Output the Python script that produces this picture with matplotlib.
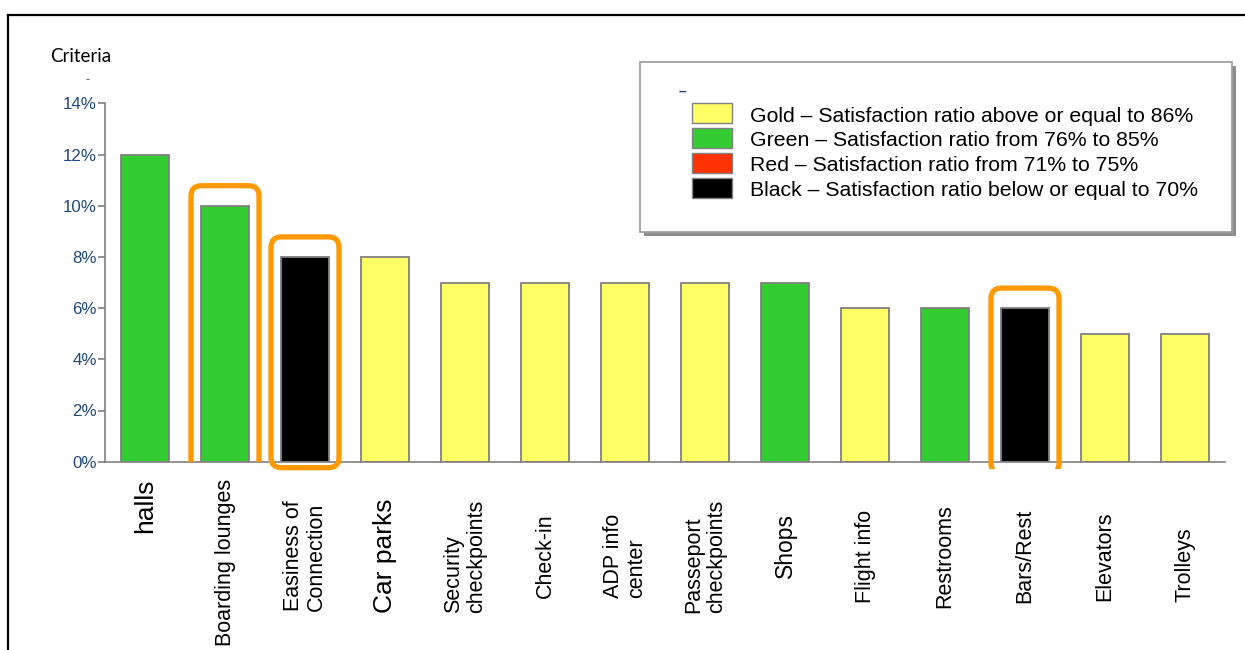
import numpy as np
from matplotlib import pyplot as plt
from matplotlib.patches import Rectangle, FancyBboxPatch
from matplotlib.lines import Line2D
from matplotlib.ticker import FuncFormatter

''' Data read off the reference chart.'''

criteria = ['halls', 'Boarding lounges', 'Easiness of\nConnection', 'Car parks',
            'Security\ncheckpoints', 'Check-in', 'ADP info\ncenter', 'Passeport\ncheckpoints',
            'Shops', 'Flight info', 'Restrooms', 'Bars/Rest', 'Elevators', 'Trolleys']
weights = [12, 10, 8, 8, 7, 7, 7, 7, 7, 6, 6, 6, 5, 5]
levels = ['green', 'green', 'black', 'gold', 'gold', 'gold', 'gold', 'gold',
          'green', 'gold', 'green', 'black', 'gold', 'gold']
highlighted = ['Boarding lounges', 'Easiness of\nConnection', 'Bars/Rest']

legend_levels = ['gold', 'green', 'red', 'black']
legend_labels = ['Gold \u2013 Satisfaction ratio above or equal to 86%',
                 'Green \u2013 Satisfaction ratio from 76% to 85%',
                 'Red \u2013 Satisfaction ratio from 71% to 75%',
                 'Black \u2013 Satisfaction ratio below or equal to 70%']

level_colours = {'gold': '#FFFF66', 'green': '#33CC33', 'red': '#FF3300', 'black': '#000000'}

plt.rcParams['font.family'] = ['Liberation Sans', 'DejaVu Sans']

W, H = 1245, 650
fig = plt.figure(figsize=(W / 100, H / 100), dpi=100)

def fx(x):
    return x / W

def fy(y):
    return 1 - y / H

ax = fig.add_axes([fx(105), fy(461.7), 1120 / W, 358.4 / H])

x = np.arange(len(criteria))
ax.bar(x, weights, width=0.59, color=[level_colours[l] for l in levels],
       edgecolor='#808080', linewidth=1.3, zorder=2)

ax.set_xlim(-0.5, len(criteria) - 0.5)
ax.set_ylim(0, 14)
ax.set_yticks(np.arange(0, 15, 2))
ax.yaxis.set_major_formatter(FuncFormatter(lambda v, p: '%d%%' % v))
ax.tick_params(axis='y', colors='#808080', labelcolor='#1F497D', labelsize=12.2,
               length=5, width=1.2, pad=1)
ax.set_xticks([])
for s in ['top', 'right']:
    ax.spines[s].set_visible(False)
for s in ['left', 'bottom']:
    ax.spines[s].set_color('#808080')
    ax.spines[s].set_linewidth(1.2)

''' Category labels, rotated under the bars.'''

label_centre = {'halls': 506, 'Shops': 546, 'Boarding lounges': 562, 'Trolleys': 565}
label_size = {'halls': 19, 'Car parks': 19, 'Shops': 16.5}
for i, name in enumerate(criteria):
    ypx = label_centre.get(name, 556)
    ax.text(i, (461.7 - ypx) / 358.4, name, transform=ax.get_xaxis_transform(),
            rotation=90, ha='center', va='center', multialignment='left',
            fontsize=label_size.get(name, 15.5), linespacing=1.15, clip_on=False)

''' Orange frames around the highlighted criteria.'''

px_x = 80.0
px_y = 358.4 / 14
aspect = px_x / px_y
for name in highlighted:
    i = criteria.index(name)
    top = weights[i] + 20 / px_y
    if name == 'Easiness of\nConnection':
        bottom = -6 / px_y
        clip_y = None
    elif name == 'Bars/Rest':
        bottom = -12 / px_y
        clip_y = -7 / px_y
    else:
        bottom = -16 / px_y
        clip_y = 0
    box = FancyBboxPatch((i - 0.425, bottom), 0.85, top - bottom,
                         boxstyle='round,pad=0,rounding_size=0.13', mutation_aspect=aspect,
                         fill=False, edgecolor='#FF9900', linewidth=3.8, zorder=3,
                         clip_on=False)
    ax.add_patch(box)
    if clip_y is not None:
        box.set_clip_path(Rectangle((i - 1, clip_y), 2, 30, transform=ax.transData))
        box.set_clip_on(True)

''' Outer frame and the "Criteria" heading.'''

fig.add_artist(Line2D([fx(8), fx(W)], [fy(15), fy(15)], color='black', linewidth=1.6))
fig.add_artist(Line2D([fx(8), fx(8)], [fy(15), fy(H)], color='black', linewidth=1.6))
fig.text(fx(50), fy(62), 'Criteria', fontsize=13.5, family=['Lato', 'DejaVu Sans'],
         ha='left', va='baseline')
fig.text(fx(87), fy(80), '-', fontsize=9, color='#1F497D', ha='center', va='center')

''' Legend drawn by hand so that it sits like the original box.'''

fig.add_artist(Rectangle((fx(644), fy(236)), fx(1236) - fx(644), fy(66) - fy(236),
                         transform=fig.transFigure, facecolor='#8C8C8C', edgecolor='none'))
fig.add_artist(Rectangle((fx(640), fy(232)), fx(1232) - fx(640), fy(62) - fy(232),
                         transform=fig.transFigure, facecolor='white', edgecolor='#A0A0A0',
                         linewidth=1.3))
fig.text(fx(682), fy(92), '\u2013', fontsize=10, color='#1F497D', ha='center', va='center',
         fontweight='bold')
for k, (lev, lab) in enumerate(zip(legend_levels, legend_labels)):
    yc = 113 + 25 * k
    fig.add_artist(Rectangle((fx(692), fy(yc + 10)), 40 / W, 20 / H,
                             transform=fig.transFigure, facecolor=level_colours[lev],
                             edgecolor='#808080', linewidth=1.0))
    fig.text(fx(750), fy(yc + 3), lab, fontsize=15.35, ha='left', va='center')

plt.savefig('out.png', dpi=100)
